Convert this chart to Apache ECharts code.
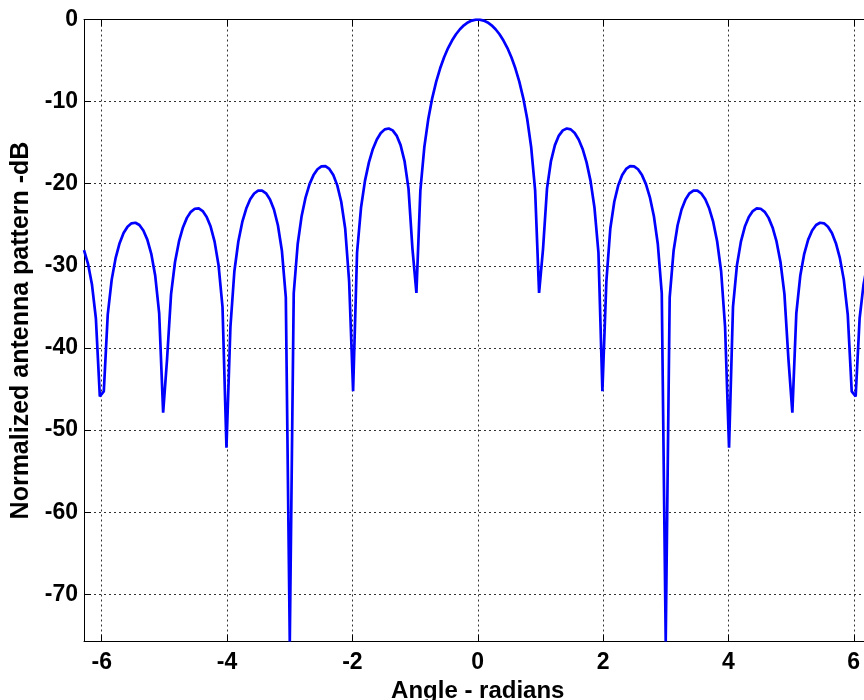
<!DOCTYPE html>
<html>
<head>
<meta charset="utf-8">
<script src="https://cdn.jsdelivr.net/npm/echarts@6/dist/echarts.min.js"></script>
<style>html,body{margin:0;padding:0;background:#fff}#c{width:864px;height:700px}</style>
</head>
<body>
<div id="c"></div>
<script>
const angleX = [
-6.2832,-6.2200,-6.1569,-6.0937,-6.0306,-5.9674,-5.9043,-5.8411,-5.7780,-5.7149,
-5.6517,-5.5886,-5.5254,-5.4623,-5.3991,-5.3360,-5.2728,-5.2097,-5.1465,-5.0834,
-5.0202,-4.9571,-4.8939,-4.8308,-4.7676,-4.7045,-4.6413,-4.5782,-4.5151,-4.4519,
-4.3888,-4.3256,-4.2625,-4.1993,-4.1362,-4.0730,-4.0099,-3.9467,-3.8836,-3.8204,
-3.7573,-3.6941,-3.6310,-3.5678,-3.5047,-3.4415,-3.3784,-3.3152,-3.2521,-3.1890,
-3.1258,-3.0627,-2.9995,-2.9364,-2.8732,-2.8101,-2.7469,-2.6838,-2.6206,-2.5575,
-2.4943,-2.4312,-2.3680,-2.3049,-2.2417,-2.1786,-2.1154,-2.0523,-1.9891,-1.9260,
-1.8629,-1.7997,-1.7366,-1.6734,-1.6103,-1.5471,-1.4840,-1.4208,-1.3577,-1.2945,
-1.2314,-1.1682,-1.1051,-1.0419,-0.9788,-0.9156,-0.8525,-0.7893,-0.7262,-0.6630,
-0.5999,-0.5368,-0.4736,-0.4105,-0.3473,-0.2842,-0.2210,-0.1579,-0.0947,-0.0316,
0.0316,0.0947,0.1579,0.2210,0.2842,0.3473,0.4105,0.4736,0.5368,0.5999,
0.6630,0.7262,0.7893,0.8525,0.9156,0.9788,1.0419,1.1051,1.1682,1.2314,
1.2945,1.3577,1.4208,1.4840,1.5471,1.6103,1.6734,1.7366,1.7997,1.8629,
1.9260,1.9891,2.0523,2.1154,2.1786,2.2417,2.3049,2.3680,2.4312,2.4943,
2.5575,2.6206,2.6838,2.7469,2.8101,2.8732,2.9364,2.9995,3.0627,3.1258,
3.1890,3.2521,3.3152,3.3784,3.4415,3.5047,3.5678,3.6310,3.6941,3.7573,
3.8204,3.8836,3.9467,4.0099,4.0730,4.1362,4.1993,4.2625,4.3256,4.3888,
4.4519,4.5151,4.5782,4.6413,4.7045,4.7676,4.8308,4.8939,4.9571,5.0202,
5.0834,5.1465,5.2097,5.2728,5.3360,5.3991,5.4623,5.5254,5.5886,5.6517,
5.7149,5.7780,5.8411,5.9043,5.9674,6.0306,6.0937,6.1569,6.2200,6.2832
];
const patternDB = [
-28.10,-29.73,-32.23,-36.38,-45.89,-45.29,-35.94,-31.68,-29.03,-27.24,
-26.01,-25.23,-24.82,-24.75,-25.03,-25.70,-26.81,-28.54,-31.22,-35.80,
-47.88,-41.29,-33.45,-29.53,-27.03,-25.33,-24.16,-23.42,-23.05,-23.01,
-23.33,-24.04,-25.22,-27.05,-29.92,-35.00,-52.15,-37.44,-30.66,-27.03,
-24.66,-23.02,-21.90,-21.19,-20.84,-20.83,-21.17,-21.91,-23.14,-25.06,
-28.13,-33.84,-75.75,-33.34,-27.34,-23.92,-21.65,-20.05,-18.95,-18.24,
-17.88,-17.86,-18.20,-18.94,-20.20,-22.19,-25.45,-31.91,-45.27,-28.39,
-22.93,-19.65,-17.40,-15.77,-14.61,-13.83,-13.38,-13.27,-13.50,-14.14,
-15.30,-17.24,-20.60,-27.93,-33.29,-20.81,-15.55,-12.12,-9.57,-7.57,
-5.94,-4.60,-3.48,-2.56,-1.80,-1.19,-0.71,-0.36,-0.13,-0.01,
-0.01,-0.13,-0.36,-0.71,-1.19,-1.80,-2.56,-3.48,-4.60,-5.94,
-7.57,-9.57,-12.12,-15.55,-20.81,-33.29,-27.93,-20.60,-17.24,-15.30,
-14.14,-13.50,-13.27,-13.38,-13.83,-14.61,-15.77,-17.40,-19.65,-22.93,
-28.39,-45.27,-31.91,-25.45,-22.19,-20.20,-18.94,-18.20,-17.86,-17.88,
-18.24,-18.95,-20.05,-21.65,-23.92,-27.34,-33.34,-75.75,-33.84,-28.13,
-25.06,-23.14,-21.91,-21.17,-20.83,-20.84,-21.19,-21.90,-23.02,-24.66,
-27.03,-30.66,-37.44,-52.15,-35.00,-29.92,-27.05,-25.22,-24.04,-23.33,
-23.01,-23.05,-23.42,-24.16,-25.33,-27.03,-29.53,-33.45,-41.29,-47.88,
-35.80,-31.22,-28.54,-26.81,-25.70,-25.03,-24.75,-24.82,-25.23,-26.01,
-27.24,-29.03,-31.68,-35.94,-45.29,-45.89,-36.38,-32.23,-29.73,-28.10
];
const xRange = [-6.2832, 6.2832];
const yRange = [-75.75, 0];
const xTickStep = 2;
const yTickStep = 10;
const xTitle = 'Angle - radians';
const yTitle = 'Normalized antenna pattern -dB';

const FONT = 'Liberation Sans';
const chart = echarts.init(document.getElementById('c'), null, {renderer: 'canvas'});
const points = angleX.map((x, i) => [x, patternDB[i]]);
const gridLine = {show: true, lineStyle: {color: '#333', width: 1, type: [2, 3]}};
const labelStyle = {color: '#000', fontFamily: FONT, fontWeight: 'bold', fontSize: 23};
const xNameStyle = {color: '#000', fontFamily: FONT, fontWeight: 'bold', fontSize: 24};
const yNameStyle = {color: '#000', fontFamily: FONT, fontWeight: 'bold', fontSize: 25};

chart.setOption({
  animation: false,
  backgroundColor: '#fff',
  grid: {left: 84, top: 19.5, right: -7.5, bottom: 58.5, containLabel: false, outerBoundsMode: 'none'},
  xAxis: [{
    type: 'value', min: xRange[0], max: xRange[1],
    minInterval: xTickStep, maxInterval: xTickStep,
    name: xTitle, nameLocation: 'middle', nameGap: 34,
    nameTextStyle: xNameStyle,
    axisLine: {show: true, onZero: false, lineStyle: {color: '#000', width: 1}},
    axisTick: {show: true, inside: true, length: 7, lineStyle: {color: '#000'}},
    axisLabel: Object.assign({margin: 10, showMinLabel: false, showMaxLabel: false}, labelStyle),
    splitLine: gridLine
  }, {
    type: 'value', position: 'top', min: xRange[0], max: xRange[1],
    minInterval: xTickStep, maxInterval: xTickStep,
    axisLine: {show: true, onZero: false, lineStyle: {color: '#000', width: 1}},
    axisTick: {show: true, inside: true, length: 7, lineStyle: {color: '#000'}},
    axisLabel: {show: false}, splitLine: {show: false}
  }],
  yAxis: [{
    type: 'value', min: yRange[0], max: yRange[1],
    minInterval: yTickStep, maxInterval: yTickStep, splitNumber: 8,
    name: yTitle, nameLocation: 'middle', nameGap: 44, nameRotate: 90,
    nameTextStyle: yNameStyle,
    axisLine: {show: true, onZero: false, lineStyle: {color: '#000', width: 1}},
    axisTick: {show: true, inside: true, length: 7, lineStyle: {color: '#000'}},
    axisLabel: Object.assign({margin: 6, showMinLabel: false}, labelStyle),
    splitLine: gridLine
  }],
  series: [{
    type: 'line', xAxisIndex: 0, yAxisIndex: 0,
    data: points, showSymbol: false, symbol: 'none', smooth: false, clip: true,
    lineStyle: {color: '#0000ff', width: 2.7}
  }]
});
</script>
</body>
</html>
